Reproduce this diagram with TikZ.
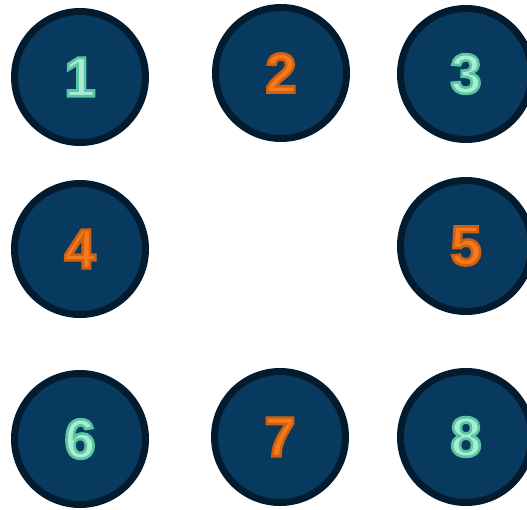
\documentclass[tikz,border=0pt]{standalone}
\usepackage{fontspec}
\setmainfont{Liberation Sans}
\usepackage{tikz}
\definecolor{corfundo}{RGB}{8,58,96}
\definecolor{corborda}{RGB}{3,27,46}
\definecolor{cormenta}{RGB}{170,235,212}
\definecolor{corlaranja}{RGB}{245,122,32}
% contorno do algarismo: modo de texto 2 (preencher e tracejar)
\newcommand{\numverde}[1]{\textcolor{cormenta}{\special{pdf:literal direct 0.345 0.776 0.627 RG 2.6 w 2 Tr}#1\special{pdf:literal direct 0 Tr}}}
\newcommand{\numlaranja}[1]{\textcolor{corlaranja}{\special{pdf:literal direct 0.824 0.373 0.047 RG 2.6 w 2 Tr}#1\special{pdf:literal direct 0 Tr}}}

\begin{document}
\begin{tikzpicture}[
  x=1pt, y=-1pt,
  bola/.style={circle, draw=corborda, line width=7pt, fill=corfundo,
               minimum size=131pt, inner sep=0pt,
               font=\fontsize{56}{56}\selectfont\bfseries}
]
  \useasboundingbox (0,0) rectangle (527,509);
  \node[bola] (n1) at (80,77)  {\numverde{1}};
  \node[bola] (n2) at (281,73) {\numlaranja{2}};
  \node[bola] (n3) at (466,74) {\numverde{3}};
  \node[bola] (n4) at (80,249) {\numlaranja{4}};
  \node[bola] (n5) at (466,246) {\numlaranja{5}};
  \node[bola] (n6) at (80,439) {\numverde{6}};
  \node[bola] (n7) at (280,437) {\numlaranja{7}};
  \node[bola] (n8) at (466,437) {\numverde{8}};
\end{tikzpicture}
\end{document}
